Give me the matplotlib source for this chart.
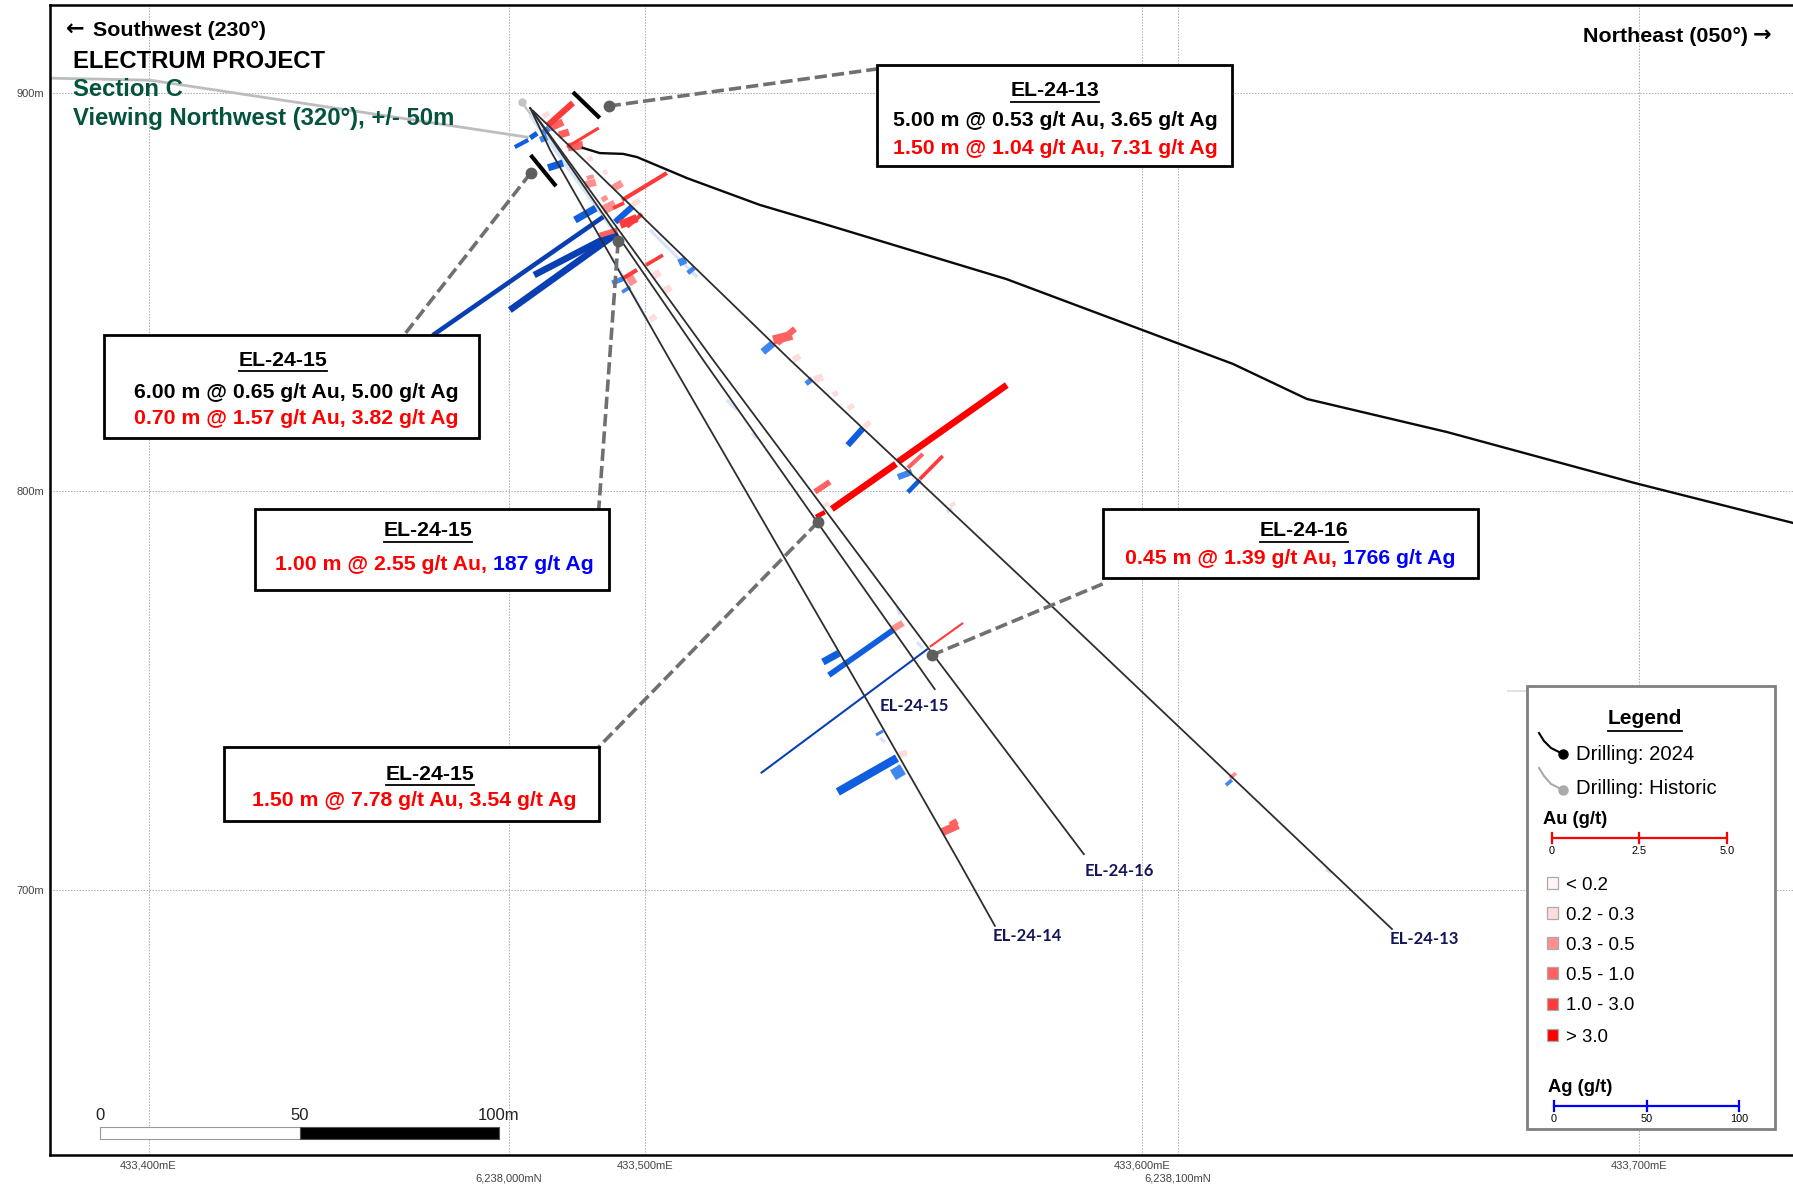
import matplotlib
matplotlib.use('Agg')
from matplotlib import pyplot as plt
from matplotlib.patches import Rectangle
from matplotlib.transforms import Affine2D

plt.rcParams['font.family'] = ['Liberation Sans', 'DejaVu Sans']

# section coordinates: metres east of 433,400mE, elevation in m
EAST_TICKS = [0, 100, 200, 300]
EAST_LABELS = ['433,400mE', '433,500mE', '433,600mE', '433,700mE']
NORTH_TICKS = [72.5, 207.1]
NORTH_LABELS = ['6,238,000mN', '6,238,100mN']
ELEV_TICKS = [700, 800, 900]
ELEV_LABELS = ['700m', '800m', '900m']

surface_e = [87.4, 90.8, 95.5, 98.3, 108.4, 123.0, 135.2, 172.6, 218.2, 233.1, 261.3, 299.1, 330.9]
surface_z = [886.1, 884.8, 884.6, 883.8, 878.5, 871.8, 867.3, 853.2, 831.9, 823.1, 814.8, 802.0, 792.0]
historic_e = [-19.8, 0.3, 76.2]
historic_z = [903.6, 903.1, 888.8]
old_hole_e = [75.1, 94.3]
old_hole_z = [897.6, 864.2]

holes = {
    'EL-24-13': ([77.4, 129.1, 179.4, 250.2], [895.4, 832.9, 773.9, 690.1]),
    'EL-24-16': ([76.8, 113.6, 157.2, 188.2], [896.1, 832.9, 760.1, 708.9]),
    'EL-24-15': ([76.8, 111.6, 158.2], [896.1, 832.9, 750.3]),
    'EL-24-14': ([76.8, 80.8, 104.9, 144.2, 162.9, 170.3], [896.1, 885.6, 832.9, 748.3, 707.4, 690.9]),
}

# e0, z0, e1, z1, interval (m), grade class
au_bars = [
    (79.4, 893.9, 80.6, 894.9, 2.25, 1), (88.4, 883.1, 89.4, 883.6, 2.25, 1),
    (91.5, 879.8, 92.3, 880.3, 2.25, 1), (97.3, 871.8, 98.9, 873.0, 2.25, 1),
    (101.5, 853.7, 102.9, 855.0, 3.15, 1), (103.5, 849.9, 105.1, 851.2, 3.15, 1),
    (100.9, 842.9, 102.1, 843.9, 2.7, 1), (129.7, 832.9, 131.1, 833.9, 2.7, 1),
    (133.9, 827.9, 135.7, 828.6, 3.15, 1), (137.7, 824.1, 138.7, 824.8, 2.25, 1),
    (140.7, 820.6, 141.9, 821.6, 2.25, 1), (144.0, 816.1, 145.2, 817.3, 2.25, 1),
    (135.9, 796.2, 136.9, 797.0, 1.8, 1), (161.3, 796.2, 162.3, 797.0, 1.8, 1),
    (151.0, 733.8, 152.6, 734.3, 2.7, 1),
    (87.8, 876.8, 90.0, 877.5, 3.15, 2), (88.2, 878.5, 89.6, 879.0, 1.8, 2),
    (93.5, 876.0, 95.3, 877.3, 3.15, 2), (91.2, 873.0, 92.3, 873.8, 2.25, 2),
    (91.5, 870.5, 93.9, 872.0, 4.0, 2), (96.5, 852.4, 97.9, 853.4, 4.0, 2),
    (149.8, 765.4, 151.8, 766.9, 2.9, 2), (217.6, 728.0, 218.8, 729.2, 1.6, 2),
    (80.8, 891.1, 83.4, 892.6, 3.15, 3), (82.6, 889.3, 84.6, 890.1, 3.15, 3),
    (84.4, 886.3, 87.4, 886.8, 3.6, 3), (90.8, 864.2, 94.3, 865.5, 2.25, 3),
    (125.7, 837.9, 129.5, 839.1, 4.0, 3), (126.5, 837.1, 130.1, 840.7, 2.7, 3),
    (152.8, 805.8, 155.8, 809.3, 1.8, 3), (134.1, 799.8, 137.1, 802.3, 2.5, 3),
    (159.7, 714.4, 162.9, 716.2, 3.6, 3), (161.3, 716.2, 162.7, 717.2, 2.7, 3),
    (80.4, 891.8, 85.4, 897.4, 2.7, 4), (84.2, 886.3, 90.6, 891.1, 1.35, 4),
    (95.3, 873.0, 104.3, 879.8, 1.8, 4), (93.5, 871.0, 95.7, 872.3, 1.6, 4),
    (94.9, 866.8, 98.3, 868.5, 3.6, 4), (96.3, 866.3, 99.3, 869.5, 1.8, 4),
    (95.5, 853.4, 98.3, 855.5, 1.8, 4), (100.1, 856.7, 103.5, 859.2, 1.6, 4),
    (155.2, 803.0, 159.8, 808.8, 1.6, 4), (157.2, 760.9, 163.9, 766.9, 0.9, 4),
    (137.5, 795.5, 150.4, 806.8, 2.9, 5), (150.8, 807.3, 172.7, 826.6, 2.9, 5),
    (134.3, 793.5, 136.1, 794.7, 2.0, 5),
]
ag_bars = [
    (76.8, 894.4, 94.3, 864.2, 1.8, 0), (100.9, 865.5, 110.4, 853.7, 1.35, 0),
    (93.3, 858.7, 100.3, 842.9, 1.35, 0), (116.4, 822.8, 118.4, 820.3, 1.35, 0),
    (121.4, 814.5, 122.4, 813.3, 1.35, 0), (160.7, 794.7, 161.7, 795.7, 1.35, 0),
    (150.6, 770.9, 151.2, 768.9, 1.35, 0), (154.6, 762.1, 155.8, 760.6, 1.35, 0),
    (147.2, 738.0, 148.2, 737.0, 1.35, 0), (236.9, 705.1, 238.1, 704.1, 1.35, 0),
    (79.4, 889.8, 80.6, 891.1, 2.7, 1), (78.8, 888.1, 80.2, 888.8, 2.7, 1),
    (93.3, 852.2, 95.7, 853.4, 2.25, 1), (95.3, 849.9, 96.9, 851.2, 1.6, 1),
    (106.7, 857.2, 108.1, 858.0, 3.15, 1), (108.5, 854.7, 109.8, 856.0, 2.0, 1),
    (123.6, 834.9, 125.7, 837.1, 3.15, 1), (132.3, 826.9, 133.5, 828.1, 2.25, 1),
    (150.8, 803.5, 153.6, 804.8, 2.7, 1), (146.4, 738.8, 147.8, 739.8, 1.35, 1),
    (149.8, 728.7, 151.8, 730.2, 5.0, 1), (216.8, 726.2, 218.0, 727.5, 1.6, 1),
    (73.7, 886.3, 76.4, 888.1, 1.8, 2), (76.8, 888.6, 78.2, 889.8, 2.25, 2),
    (80.4, 881.1, 83.4, 882.3, 3.15, 2), (85.8, 868.0, 90.0, 871.0, 3.15, 2),
    (93.9, 867.5, 97.3, 871.3, 2.7, 2), (140.7, 811.5, 143.8, 815.8, 2.7, 2),
    (152.8, 799.7, 155.2, 802.8, 2.0, 2), (136.9, 753.8, 149.8, 765.1, 2.5, 2),
    (135.7, 757.1, 138.9, 759.3, 3.15, 2), (138.7, 724.5, 150.6, 733.0, 3.6, 2),
    (57.2, 839.1, 91.5, 868.8, 2.0, 3), (77.6, 854.2, 94.3, 865.0, 2.9, 3),
    (72.7, 845.4, 94.3, 864.7, 2.9, 3), (123.2, 729.2, 156.8, 760.4, 0.9, 3),
]

# dot end, box end of each callout
callouts = [
    (92.6, 896.6, 146.5, 905.9), (76.9, 879.8, 51.4, 839.1), (94.5, 862.7, 90.6, 795.5),
    (134.7, 792.2, 90.6, 735.8), (157.6, 758.8, 192.0, 776.7),
]
section_ticks = [(85.4, 900.1, 90.8, 893.6), (76.9, 884.3, 82.0, 876.5)]

AU_CLASSES = ['< 0.2', '0.2 - 0.3', '0.3 - 0.5', '0.5 - 1.0', '1.0 - 3.0', '> 3.0']
AU_COLORS = ['#fff5f2', '#ffdcdc', '#ff9090', '#ff6060', '#ff3a3a', '#ff0000']
AG_COLORS = ['#d6e4f8', '#3f86f0', '#0f5ee0', '#0a3fb4']

RED = '#ff0000'
BLUE = '#0000ff'
BLACK = '#000000'

fig = plt.figure(figsize=(17.93, 11.85), dpi=100)
ax = fig.add_axes([50 / 1793, 30 / 1185, 1743 / 1793, 1150 / 1185])
ax.set_xlim(-19.82, 330.9)
ax.set_ylim(633.4, 921.96)
px = Affine2D().scale(1 / 1793, -1 / 1185).translate(0, 1) + fig.transFigure

ax.set_xticks(EAST_TICKS, EAST_LABELS, fontsize=8, color='#444444')
ax.set_xticks(NORTH_TICKS, NORTH_LABELS, fontsize=8, color='#444444', minor=True)
ax.set_yticks(ELEV_TICKS, ELEV_LABELS, fontsize=8, color='#444444')
ax.tick_params(which='both', length=0, pad=4)
ax.tick_params(axis='x', which='minor', pad=13)
ax.grid(which='both', color='#aaaaaa', lw=0.7, ls=(0, (1.5, 1.5)))
ax.set_axisbelow(True)
ax.spines['right'].set_visible(False)
for side in ('top', 'left', 'bottom'):
    ax.spines[side].set_linewidth(1.8)

ax.plot(historic_e, historic_z, color='#bdbdbd', lw=2, zorder=2)
ax.plot(old_hole_e, old_hole_z, color='#c9c3bd', lw=1.6, zorder=2)
ax.plot(old_hole_e[0], old_hole_z[0], 'o', color='#c4c4c4', ms=5, zorder=2)
ax.plot(surface_e, surface_z, color='#0a0a0a', lw=1.7, zorder=4)

for e0, z0, e1, z1, metres, cls in ag_bars:
    ax.plot([e0, e1], [z0, z1], color=AG_COLORS[cls], lw=metres * 1.65, solid_capstyle='butt', zorder=3)
for e0, z0, e1, z1, metres, cls in au_bars:
    ax.plot([e0, e1], [z0, z1], color=AU_COLORS[cls], lw=metres * 1.65, solid_capstyle='butt', zorder=3)

for e, z in holes.values():
    ax.plot(e, z, color='#2e2e2e', lw=1.3, zorder=4)

for e0, z0, e1, z1 in section_ticks:
    ax.plot([e0, e1], [z0, z1], color=BLACK, lw=3, solid_capstyle='butt', zorder=5)
for e0, z0, e1, z1 in callouts:
    ax.plot([e0, e1], [z0, z1], color='#707070', lw=2.6, ls=(0, (3.4, 1.4)), zorder=5)
    ax.plot(e0, z0, 'o', color='#5e5e5e', ms=7.5, zorder=5)


def text(x, y, s, size, weight='normal', color=BLACK, ha='left', **kw):
    return fig.text(x, y + 2, s, transform=px, fontsize=size, fontweight=weight, color=color,
                    ha=ha, va='center', zorder=20, **kw)


def width_of(s, size, weight):
    # trailing spaces are not measured, so pad with a bar
    r = fig.canvas.get_renderer()
    full = fig.text(0, 0, s + '|', fontsize=size, fontweight=weight)
    bar = fig.text(0, 0, '|', fontsize=size, fontweight=weight)
    w = full.get_window_extent(r).width - bar.get_window_extent(r).width
    full.remove()
    bar.remove()
    return w


def runs(xc, y, parts, size=15.3):
    total = sum(width_of(s, size, 'bold') for s, _ in parts)
    x = xc - total / 2
    for s, col in parts:
        text(x, y, s, size, 'bold', col)
        x += width_of(s, size, 'bold')


def underlined(xc, y, s, size, drop=13):
    text(xc, y, s, size, 'bold', ha='center')
    w = width_of(s, size, 'bold')
    fig.add_artist(plt.Line2D([xc - w / 2, xc + w / 2], [y + drop, y + drop], color=BLACK, lw=1.3,
                              transform=px, zorder=20))


def box(x0, y0, x1, y1, edge=BLACK, lw=2.0):
    fig.add_artist(Rectangle((x0, y0), x1 - x0, y1 - y0, fc='white', ec=edge, lw=lw, transform=px, zorder=15))


# header text
text(66, 27, '←', 16, 'bold', family='DejaVu Sans')
text(93, 28, 'Southwest (230°)', 15.4, 'bold')
text(73, 59, 'ELECTRUM PROJECT', 17.2, 'bold')
text(73, 88, 'Section C', 17.2, 'bold', '#04533f')
text(73, 117, 'Viewing Northwest (320°), +/- 50m', 17.2, 'bold', '#04533f')
text(1583, 34, 'Northeast (050°)', 15.4, 'bold')
text(1753, 33, '→', 16, 'bold', family='DejaVu Sans')

# callout boxes
box(877, 65, 1232, 166)
underlined(1055, 89, 'EL-24-13', 15.3)
runs(1055, 118, [('5.00 m @ 0.53 g/t Au, 3.65 g/t Ag', BLACK)])
runs(1055, 146, [('1.50 m @ 1.04 g/t Au, 7.31 g/t Ag', RED)])

box(104, 335, 479, 438)
underlined(283, 358, 'EL-24-15', 15.3)
runs(296, 391, [('6.00 m @ 0.65 g/t Au, 5.00 g/t Ag', BLACK)])
runs(296, 416, [('0.70 m @ 1.57 g/t Au, 3.82 g/t Ag', RED)])

box(255, 509, 609, 590)
underlined(428, 529, 'EL-24-15', 15.3)
runs(434, 563, [('1.00 m @ 2.55 g/t Au, ', RED), ('187 g/t Ag', BLUE)])

box(1103, 509, 1478, 578)
underlined(1304, 529, 'EL-24-16', 15.3)
runs(1290, 556, [('0.45 m @ 1.39 g/t Au, ', RED), ('1766 g/t Ag', BLUE)])

box(224, 747, 599, 821)
underlined(430, 772, 'EL-24-15', 15.3)
runs(414, 798, [('1.50 m @ 7.78 g/t Au, 3.54 g/t Ag', RED)])

# hole names
for x, y, name in [(914, 704, 'EL-24-15'), (1119, 869, 'EL-24-16'), (1027, 934, 'EL-24-14'), (1424, 937, 'EL-24-13')]:
    text(x, y, name, 12, 'bold', '#14145a', ha='center', family='Lato')

# scale bar
fig.add_artist(Rectangle((100, 1127), 200, 12, fc='white', ec='#999999', lw=0.8, transform=px, zorder=10))
fig.add_artist(Rectangle((300, 1127), 199, 12, fc=BLACK, ec='#555555', lw=0.8, transform=px, zorder=10))
text(100, 1113, '0', 12, ha='center', color='#222222')
text(300, 1113, '50', 12, ha='center', color='#222222')
text(478, 1113, '100m', 12, color='#222222')

# legend
fig.add_artist(plt.Line2D([1508, 1527], [691, 691], color='#dddddd', lw=1.2, transform=px, zorder=10))
box(1527, 686, 1775, 1129, edge='#808080')
underlined(1645, 717, 'Legend', 15, drop=14)
for xs, ys, col in [([1539, 1544, 1551, 1563], [733, 741, 748, 754], BLACK),
                    ([1539, 1544, 1551, 1563], [768, 776, 784, 790], '#aaaaaa')]:
    fig.add_artist(plt.Line2D(xs, ys, color=col, lw=1.5, transform=px, zorder=20))
    fig.add_artist(plt.Line2D(xs[-1:], ys[-1:], color=col, marker='o', ms=6.5, ls='', transform=px, zorder=20))
text(1576, 753, 'Drilling: 2024', 14.6)
text(1576, 787, 'Drilling: Historic', 14.6)

text(1543, 818, 'Au (g/t)', 13.2, 'bold')
fig.add_artist(plt.Line2D([1552, 1727], [838, 838], color=RED, lw=1.6, transform=px, zorder=20))
for x, lab in [(1552, '0'), (1639, '2.5'), (1727, '5.0')]:
    fig.add_artist(plt.Line2D([x, x], [833, 843], color=RED, lw=1.6, transform=px, zorder=20))
    text(x, 849, lab, 7.8, ha='center')

for y, lab, col in zip([883, 913, 943, 973, 1004, 1035], AU_CLASSES, AU_COLORS):
    fig.add_artist(Rectangle((1547, y - 6), 11, 12, fc=col, ec='#aaaaaa', lw=0.9, transform=px, zorder=20))
    text(1566, y, lab, 13.4)

text(1548, 1086, 'Ag (g/t)', 13.2, 'bold')
fig.add_artist(plt.Line2D([1554, 1739], [1106, 1106], color=BLUE, lw=1.6, transform=px, zorder=20))
for x, lab in [(1554, '0'), (1647, '50'), (1739, '100')]:
    fig.add_artist(plt.Line2D([x, x], [1101, 1111], color=BLUE, lw=1.6, transform=px, zorder=20))
    text(x, 1117, lab, 7.8, ha='center')

fig.savefig('out.png', dpi=100)
plt.close()
